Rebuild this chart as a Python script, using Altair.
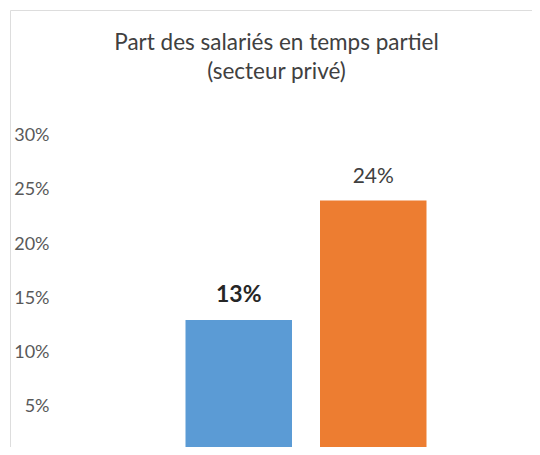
import altair as alt
import pandas as pd

categories = ["Série 1", "Série 2"]
values = [0.13, 0.24]
labels = ["13%", "24%"]
weights = ["bold", "normal"]
colors = ["#5B9BD5", "#ED7D31"]
y_ticks = [0, 0.05, 0.10, 0.15, 0.20, 0.25, 0.30]
title_lines = ["Part des salariés en temps partiel", "(secteur privé)"]

df = pd.DataFrame({"cat": categories, "val": values, "lab": labels, "w": weights})

FONT = "Lato"

x = alt.X("cat:N", axis=None,
          scale=alt.Scale(domain=categories, range=[161.5, 430.5],
                          paddingInner=0.2082, paddingOuter=0.1041))
y = alt.Y("val:Q",
          scale=alt.Scale(domain=[-0.008295, 0.41567], nice=False, zero=False),
          axis=alt.Axis(values=y_ticks, format=".0%", title=None, domain=False,
                        ticks=False, tickSize=0, grid=False, offset=-41, labelPadding=2,
                        labelFont=FONT, labelFontSize=18, labelColor="#595959"))

base = alt.Chart(df)
bars = base.mark_bar().encode(
    x=x, y=y,
    color=alt.Color("cat:N", scale=alt.Scale(domain=categories, range=colors), legend=None),
)
txt_bold = base.transform_filter(alt.datum.w == "bold").mark_text(
    baseline="alphabetic", dy=-18, font=FONT, fontSize=23, fontWeight="bold", color="#262626"
).encode(x=x, y=y, text="lab:N")
txt_norm = base.transform_filter(alt.datum.w == "normal").mark_text(
    baseline="alphabetic", dy=-18, font=FONT, fontSize=21, color="#404040"
).encode(x=x, y=y, text="lab:N")

chart = alt.layer(bars, txt_bold, txt_norm).properties(
    width=535, height=460,
    autosize=alt.AutoSizeParams(type="none"),
    padding={"left": 2, "top": 2, "right": -13, "bottom": -23},
    title=alt.TitleParams(text=title_lines, anchor="middle", frame="group",
                          offset=-73, dx=-1, font=FONT, fontSize=22.5,
                          fontWeight="normal", color="#404040", lineHeight=29),
).configure_view(stroke="#D9D9D9", strokeWidth=1).configure(background="white")

chart.save("out.html", embed_options={"renderer": "svg", "actions": False})
